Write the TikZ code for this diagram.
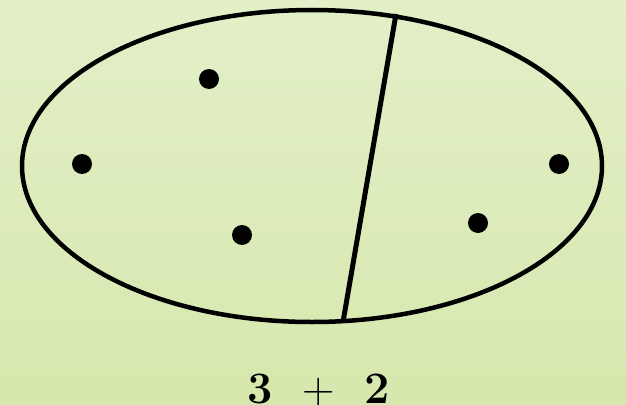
\documentclass[tikz,border=0pt]{standalone}
\usepackage{fontspec}
\begin{document}
\begin{tikzpicture}[x=1pt,y=-1pt,
  dot/.style={fill=black,circle,inner sep=0pt,minimum size=20pt},
  lbl/.style={inner sep=0pt,font=\fontsize{45}{48}\selectfont}]
\definecolor{bgtop}{HTML}{E3EFC8}
\definecolor{bgbot}{HTML}{D6E8AD}
\shade[top color=bgtop,bottom color=bgbot] (0,0) rectangle (626,404);
\useasboundingbox (0,0) rectangle (626,404);
\draw[line width=4.5pt] (312,166) ellipse [x radius=290, y radius=156];
\coordinate (t) at (396,14);
\coordinate (b) at (343,322);
\draw[line width=5pt] (t) -- (b);
\node[dot] (d1) at (209,79) {};
\node[dot] (d2) at (82,164) {};
\node[dot] (d3) at (242,235) {};
\node[dot] (d4) at (559,164) {};
\node[dot] (d5) at (478,223) {};
\node[lbl,anchor=base] (n3) at (260,403) {\bfseries 3};
\node[lbl,anchor=base] (pl) at (318.5,403) {+};
\node[lbl,anchor=base] (n2) at (377,403) {\bfseries 2};
\end{tikzpicture}
\end{document}
